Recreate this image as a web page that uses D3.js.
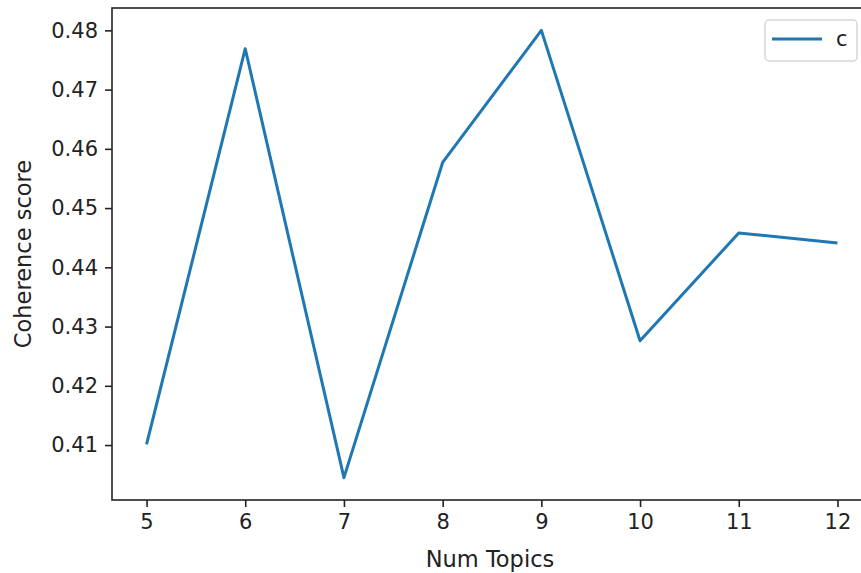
<!DOCTYPE html>
<html>
<head>
<meta charset="utf-8">
<script src="https://cdn.jsdelivr.net/npm/d3@7"></script>
<style>
  html, body { margin: 0; padding: 0; background: #fff; }
  svg { display: block; font-family: "DejaVu Sans", sans-serif; }
</style>
</head>
<body>
<svg id="chart" width="861" height="573"></svg>
<script>
const numTopics = [5, 6, 7, 8, 9, 10, 11, 12];
const coherence = [0.4101, 0.4769, 0.4045, 0.4577, 0.4800, 0.4276, 0.4458, 0.4441];
const yTicks = [0.41, 0.42, 0.43, 0.44, 0.45, 0.46, 0.47, 0.48];
const xTicks = [5, 6, 7, 8, 9, 10, 11, 12];
const seriesName = "c";

(function () {
const svg = d3.select("#chart");
const mLeft = 112, mRight = 872, mTop = 8, mBottom = 500;

const xMin = d3.min(numTopics), xMax = d3.max(numTopics);
const xPad = (xMax - xMin) * 0.05;
const x = d3.scaleLinear().domain([xMin - xPad, xMax + xPad]).range([mLeft, mRight]);
const yMin = d3.min(coherence), yMax = d3.max(coherence);
const yPad = (yMax - yMin) * 0.05;
const y = d3.scaleLinear().domain([yMin - yPad, yMax + yPad]).range([mBottom, mTop]);

// line
const line = d3.line().x((d, i) => x(numTopics[i])).y(d => y(d));
svg.append("path")
  .datum(coherence)
  .attr("d", line)
  .attr("fill", "none")
  .attr("stroke", "#1f77b4")
  .attr("stroke-width", 3)
  .attr("stroke-linejoin", "round")
  .attr("stroke-linecap", "butt");

// axes
const xAxis = d3.axisBottom(x).tickValues(xTicks).tickSize(7).tickPadding(7).tickFormat(d3.format("d"));
const yAxis = d3.axisLeft(y).tickValues(yTicks).tickSize(7).tickPadding(7).tickFormat(d3.format(".2f"));

const gx = svg.append("g").attr("transform", `translate(0,${mBottom})`).call(xAxis);
const gy = svg.append("g").attr("transform", `translate(${mLeft},0)`).call(yAxis);
[gx, gy].forEach(g => {
  g.select(".domain").remove();
  g.selectAll(".tick line").attr("stroke", "#222").attr("stroke-width", 1.6);
  g.selectAll(".tick text").attr("fill", "#222").style("font-size", "21px").style("font-family", "DejaVu Sans, sans-serif");
});

// spines
svg.append("rect")
  .attr("x", mLeft).attr("y", mTop)
  .attr("width", mRight - mLeft).attr("height", mBottom - mTop)
  .attr("fill", "none").attr("stroke", "#222").attr("stroke-width", 1.6);

// axis labels
svg.append("text")
  .attr("x", (mLeft + mRight) / 2 - 2).attr("y", 567)
  .attr("text-anchor", "middle")
  .attr("fill", "#222")
  .style("font-size", "22.5px")
  .text("Num Topics");
svg.append("text")
  .attr("transform", `translate(31,${(mTop + mBottom) / 2}) rotate(-90)`)
  .attr("text-anchor", "middle")
  .attr("fill", "#222")
  .style("font-size", "22.5px")
  .text("Coherence score");

// legend
const lg = svg.append("g");
lg.append("rect")
  .attr("x", 765).attr("y", 20).attr("width", 92).attr("height", 41)
  .attr("rx", 4).attr("fill", "#fff").attr("fill-opacity", 0.8)
  .attr("stroke", "#d6d6d6").attr("stroke-width", 1.5);
lg.append("line")
  .attr("x1", 772).attr("x2", 822).attr("y1", 39).attr("y2", 39)
  .attr("stroke", "#1f77b4").attr("stroke-width", 3);
lg.append("text")
  .attr("x", 836).attr("y", 46)
  .attr("fill", "#222")
  .style("font-size", "21px")
  .text(seriesName);
})();
</script>
</body>
</html>
